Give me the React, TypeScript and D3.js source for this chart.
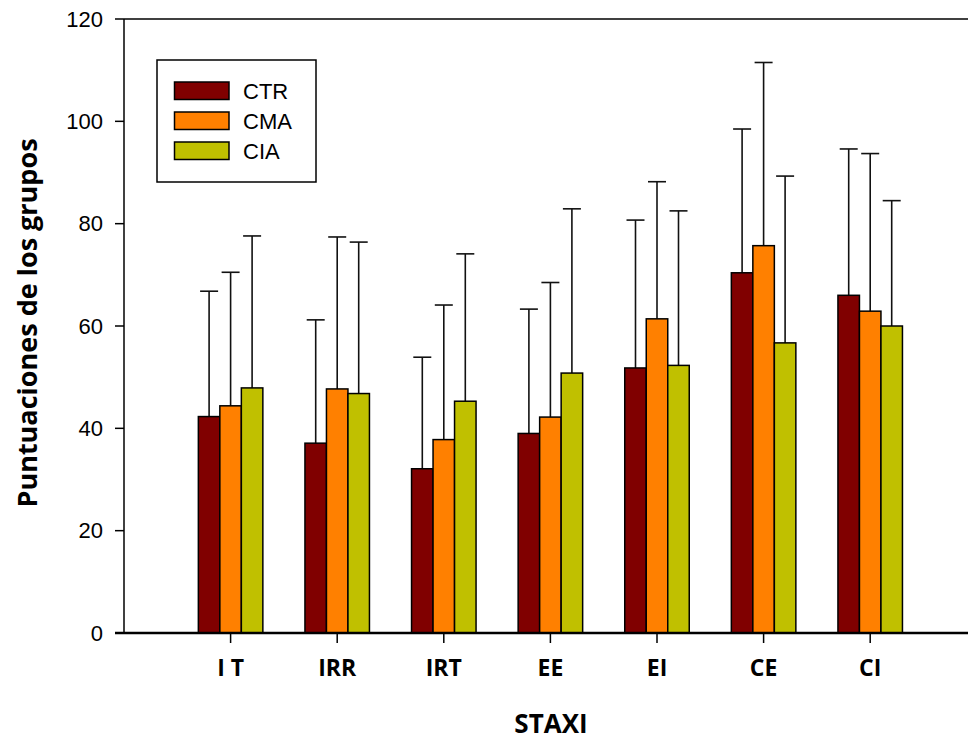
import React from "react";
import * as d3 from "d3";

const categories = ["I T", "IRR", "IRT", "EE", "EI", "CE", "CI"];
const seriesNames = ["CTR", "CMA", "CIA"];
const seriesColors = ["#800000", "#FF8000", "#C0C000"];
const ctrMean = [42.3, 37.1, 32.1, 39.0, 51.8, 70.4, 66.0];
const cmaMean = [44.4, 47.7, 37.8, 42.2, 61.4, 75.7, 62.9];
const ciaMean = [47.9, 46.8, 45.3, 50.8, 52.3, 56.7, 60.0];
const ctrUpper = [66.8, 61.2, 53.9, 63.3, 80.7, 98.5, 94.6];
const cmaUpper = [70.5, 77.4, 64.1, 68.5, 88.2, 111.5, 93.7];
const ciaUpper = [77.6, 76.4, 74.1, 82.9, 82.5, 89.3, 84.5];
const yTicks = [0, 20, 40, 60, 80, 100, 120];

const means = [ctrMean, cmaMean, ciaMean];
const uppers = [ctrUpper, cmaUpper, ciaUpper];

const W = 968;
const H = 740;
const left = 124;
const top = 19;
const bottom = 633;

export default function App() {
  const x = d3.scaleLinear().domain([0, 8]).range([left, left + 8 * 106.6]);
  const y = d3.scaleLinear().domain([0, 120]).range([bottom, top]);
  const barW = x(0.2017) - x(0);
  const capW = 18;
  const axisFont = "'Liberation Sans', Arial, sans-serif";
  const boldFont = "'Open Sans', 'Noto Sans', sans-serif";

  return (
    <svg width={W} height={H} style={{ position: "absolute", left: 0, top: 0, background: "#fff" }}>
      <rect x={0} y={0} width={W} height={H} fill="#fff" />
      {means.map((arr, s) =>
        arr.map((v, i) => {
          const cx = x(i + 1) + (s - 1) * barW;
          return (
            <g key={`e${s}-${i}`} stroke="#111" strokeWidth={1.6}>
              <line x1={cx} x2={cx} y1={y(v)} y2={y(uppers[s][i])} />
              <line x1={cx - capW / 2} x2={cx + capW / 2} y1={y(uppers[s][i])} y2={y(uppers[s][i])} />
            </g>
          );
        })
      )}
      {means.map((arr, s) =>
        arr.map((v, i) => {
          const cx = x(i + 1) + (s - 1) * barW;
          return (
            <rect
              key={`b${s}-${i}`}
              x={cx - barW / 2}
              y={y(v)}
              width={barW}
              height={y(0) - y(v)}
              fill={seriesColors[s]}
              stroke="#000"
              strokeWidth={1.5}
            />
          );
        })
      )}
      <line x1={left} x2={W} y1={top} y2={top} stroke="#000" strokeWidth={1.5} />
      <line x1={left} x2={left} y1={top} y2={bottom} stroke="#000" strokeWidth={1.5} />
      {yTicks.map((t) => (
        <g key={`yt${t}`}>
          <line x1={left - 9} x2={left} y1={y(t)} y2={y(t)} stroke="#000" strokeWidth={1.5} />
          <text
            x={103}
            y={y(t)}
            dy="0.35em"
            textAnchor="end"
            fontFamily={axisFont}
            fontSize={22}
            fill="#000"
          >
            {t}
          </text>
        </g>
      ))}
      <line x1={left - 9} x2={W} y1={bottom} y2={bottom} stroke="#000" strokeWidth={2.5} />
      {categories.map((c, i) => (
        <g key={`xt${c}`}>
          <line x1={x(i + 1)} x2={x(i + 1)} y1={bottom} y2={bottom + 10} stroke="#000" strokeWidth={1.5} />
          <text
            x={x(i + 1)}
            y={676}
            textAnchor="middle"
            fontFamily={boldFont}
            fontWeight="bold"
            fontSize={23}
            fill="#000"
          >
            {c}
          </text>
        </g>
      ))}
      <text
        x={551}
        y={733}
        textAnchor="middle"
        fontFamily={boldFont}
        fontWeight="bold"
        fontSize={26}
        fill="#000"
      >
        STAXI
      </text>
      <text
        transform={`translate(37, 323) rotate(-90)`}
        textAnchor="middle"
        fontFamily={boldFont}
        fontWeight="bold"
        fontSize={27}
        fill="#000"
      >
        Puntuaciones de los grupos
      </text>
      <rect x={157} y={60} width={159} height={122} fill="#fff" stroke="#000" strokeWidth={1.5} />
      {seriesNames.map((n, s) => (
        <g key={`lg${n}`}>
          <rect
            x={174.5}
            y={82 + s * 30}
            width={54.5}
            height={17.5}
            fill={seriesColors[s]}
            stroke="#000"
            strokeWidth={1.5}
          />
          <text
            x={243}
            y={91 + s * 30}
            dy="0.36em"
            fontFamily={axisFont}
            fontSize={22}
            fill="#000"
          >
            {n}
          </text>
        </g>
      ))}
    </svg>
  );
}
